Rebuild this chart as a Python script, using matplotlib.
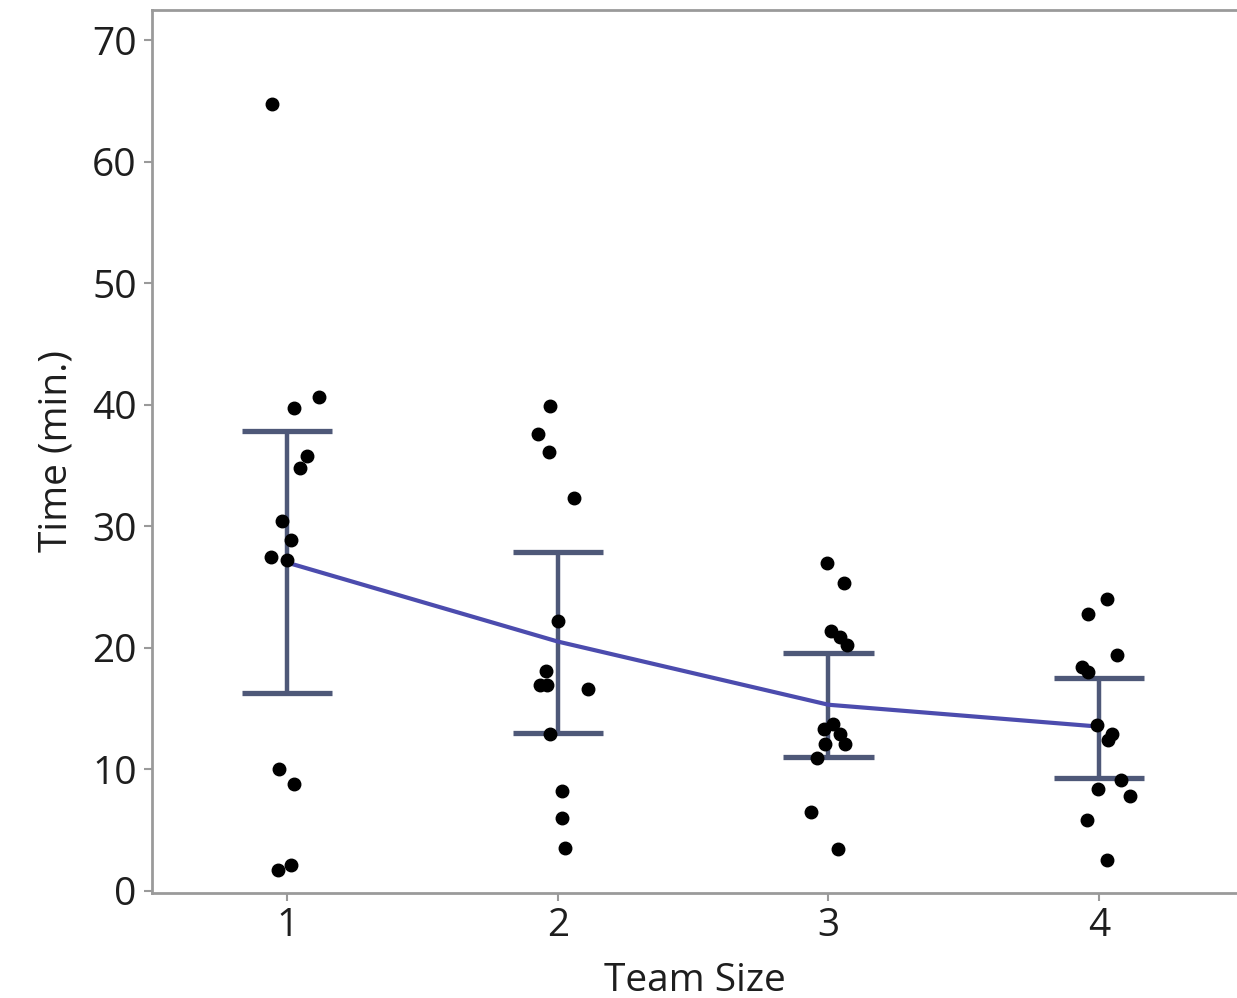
import matplotlib.pyplot as plt
import numpy as np

plt.rcParams['font.family'] = ['Open Sans', 'DejaVu Sans']

team_sizes = [1, 2, 3, 4]

# observed times per team size (min.)
times_1 = [64.8, 40.6, 39.7, 35.8, 34.8, 30.4, 28.9, 27.5, 27.2, 10.0, 8.8, 2.1, 1.7]
jitter_1 = [-0.055, 0.118, 0.026, 0.074, 0.048, -0.018, 0.015, -0.059, 0.0, -0.030, 0.026, 0.015, -0.033]

times_2 = [39.9, 37.6, 36.1, 32.3, 22.2, 18.1, 16.9, 16.9, 16.6, 12.9, 8.2, 6.0, 3.5]
jitter_2 = [-0.030, -0.074, -0.033, 0.059, 0.0, -0.044, -0.066, -0.040, 0.110, -0.030, 0.015, 0.015, 0.026]

times_3 = [27.0, 25.3, 21.4, 20.9, 20.2, 13.7, 13.3, 12.9, 12.1, 12.1, 10.9, 6.5, 3.4]
jitter_3 = [-0.004, 0.059, 0.011, 0.044, 0.068, 0.018, -0.018, 0.044, 0.063, -0.011, -0.041, -0.066, 0.037]

times_4 = [24.0, 22.8, 19.4, 18.4, 18.0, 13.6, 12.9, 12.4, 9.1, 8.4, 7.8, 5.8, 2.5]
jitter_4 = [0.028, -0.040, 0.065, -0.064, -0.040, -0.009, 0.047, 0.035, 0.083, -0.003, 0.114, -0.045, 0.028]

# group means and interval bounds
means = [27.0, 20.5, 15.3, 13.5]
lower = [16.3, 13.0, 11.0, 9.3]
upper = [37.8, 27.9, 19.6, 17.5]

groups = [(times_1, jitter_1), (times_2, jitter_2), (times_3, jitter_3), (times_4, jitter_4)]

fig = plt.figure(figsize=(12.37, 9.98), dpi=100)
ax = fig.add_axes([0.1229, 0.1052, 0.8771, 0.8848])

bar_color = '#4e5878'
line_color = '#4c4cae'
cap = 0.167

for ts, lo, hi in zip(team_sizes, lower, upper):
    ax.vlines(ts, lo, hi, color=bar_color, lw=3.2, zorder=2)
    ax.hlines([lo, hi], ts - cap, ts + cap, color=bar_color, lw=3.8, zorder=2)

ax.plot(team_sizes, means, color=line_color, lw=3, zorder=2)

for ts, (vals, jit) in zip(team_sizes, groups):
    xs = ts + np.array(jit)
    ax.plot(xs, vals, 'o', color='black', ms=9, zorder=3, linestyle='none')

ax.set_xlim(0.5, 4.51)
ax.set_ylim(-0.2, 72.5)
ax.set_xticks(team_sizes)
ax.set_yticks(np.arange(0, 71, 10))

for side in ['left', 'bottom', 'top']:
    ax.spines[side].set_color('#9a9a9a')
    ax.spines[side].set_linewidth(2)
ax.spines['right'].set_visible(False)

ax.tick_params(axis='both', labelsize=28, colors='#9a9a9a', labelcolor='#1e1e1e', length=6, width=1.5)
ax.tick_params(axis='y', pad=5)
ax.tick_params(axis='x', pad=4)

ax.set_xlabel('Team Size', fontsize=28, color='#1e1e1e', labelpad=12)
ax.set_ylabel('Time (min.)', fontsize=28, color='#1e1e1e', labelpad=12)

fig.savefig('out.png', dpi=100)
